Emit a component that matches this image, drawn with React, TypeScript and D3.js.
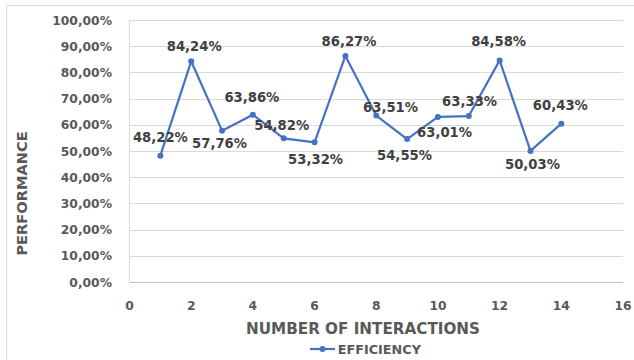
import React from "react";
import * as d3 from "d3";

// Efficiency per number of interactions
const interactions = [1, 2, 3, 4, 5, 6, 7, 8, 9, 10, 11, 12, 13, 14];
const efficiency = [48.22, 84.24, 57.76, 63.86, 54.82, 53.32, 86.27, 63.51, 54.55, 63.01, 63.33, 84.58, 50.03, 60.43];
const xTicks = [0, 2, 4, 6, 8, 10, 12, 14, 16];
const yTicks = [0, 10, 20, 30, 40, 50, 60, 70, 80, 90, 100];

// Label nudges (dx, dy) from each point to the centre of its value label
const labelOffsets: [number, number][] = [
  [0, -18], [3, -15], [-2.5, 13.3], [-1, -17.4], [-2, -12.4], [1, 17], [3.6, -14.3],
  [14.3, -8.6], [-2.6, 16.6], [6.6, 15.8], [0.8, -14.4], [-1, -18.7], [2, 14], [-1, -17.7],
];

const W = 634;
const H = 360;
const FONT = "'DejaVu Sans', sans-serif";
const BLUE = "#4472C4";

const fmt = (v: number) => v.toFixed(2).replace(".", ",") + "%";

export default function App() {
  const x = d3.scaleLinear().domain([0, 16]).range([129.5, 623]);
  const y = d3.scaleLinear().domain([0, 100]).range([282, 20]);

  const line = d3
    .line<number>()
    .x((_, i) => x(interactions[i]))
    .y((d) => y(d));

  return (
    <svg
      width={W}
      height={H}
      style={{ position: "absolute", left: 0, top: 0, background: "#fff" }}
      fontFamily={FONT}
    >
      <rect x={0} y={0} width={W} height={H} fill="#fff" />
      <rect x={6.5} y={5.5} width={W + 10} height={H + 10} fill="none" stroke="#d9d9d9" strokeWidth={1} />

      {/* gridlines */}
      {yTicks.map((t) => (
        <line
          key={"g" + t}
          x1={x(0)}
          x2={x(16)}
          y1={Math.round(y(t)) + 0.5}
          y2={Math.round(y(t)) + 0.5}
          stroke={t === 0 ? "#bfbfbf" : "#d9d9d9"}
          strokeWidth={1}
        />
      ))}
      <line x1={x(0)} x2={x(0)} y1={y(100)} y2={y(0)} stroke="#d9d9d9" strokeWidth={1} />

      {/* y tick labels */}
      {yTicks.map((t) => (
        <text
          key={"yl" + t}
          x={112}
          y={y(t) + 4.5}
          textAnchor="end"
          fontSize={12.3}
          fontWeight="bold"
          fill="#595959"
        >
          {fmt(t)}
        </text>
      ))}

      {/* x tick labels */}
      {xTicks.map((t) => (
        <text
          key={"xl" + t}
          x={x(t)}
          y={310}
          textAnchor="middle"
          fontSize={12.3}
          fontWeight="bold"
          fill="#595959"
        >
          {t}
        </text>
      ))}

      {/* axis titles */}
      <text
        transform={`translate(27.4,193.5) rotate(-90)`}
        textAnchor="middle"
        fontSize={14.6}
        fontWeight="bold"
        fill="#595959"
      >
        PERFORMANCE
      </text>
      <text x={363} y={334} textAnchor="middle" fontSize={15.2} fontWeight="bold" fill="#595959">
        NUMBER OF INTERACTIONS
      </text>

      {/* series */}
      <path d={line(efficiency) ?? ""} fill="none" stroke={BLUE} strokeWidth={2.2} strokeLinejoin="round" />
      {efficiency.map((v, i) => (
        <circle key={"p" + i} cx={x(interactions[i])} cy={y(v)} r={3} fill={BLUE} />
      ))}

      {/* value labels */}
      {efficiency.map((v, i) => (
        <text
          key={"vl" + i}
          x={x(interactions[i]) + labelOffsets[i][0]}
          y={y(v) + labelOffsets[i][1] + 4.5}
          textAnchor="middle"
          fontSize={13.2}
          fontWeight="bold"
          fill="#404040"
        >
          {fmt(v)}
        </text>
      ))}

      {/* legend */}
      <line x1={310} x2={335} y1={349} y2={349} stroke={BLUE} strokeWidth={2.2} />
      <circle cx={322.5} cy={349} r={3} fill={BLUE} />
      <text x={337.7} y={354} fontSize={12.8} fontWeight="bold" fill="#595959">
        EFFICIENCY
      </text>
    </svg>
  );
}
